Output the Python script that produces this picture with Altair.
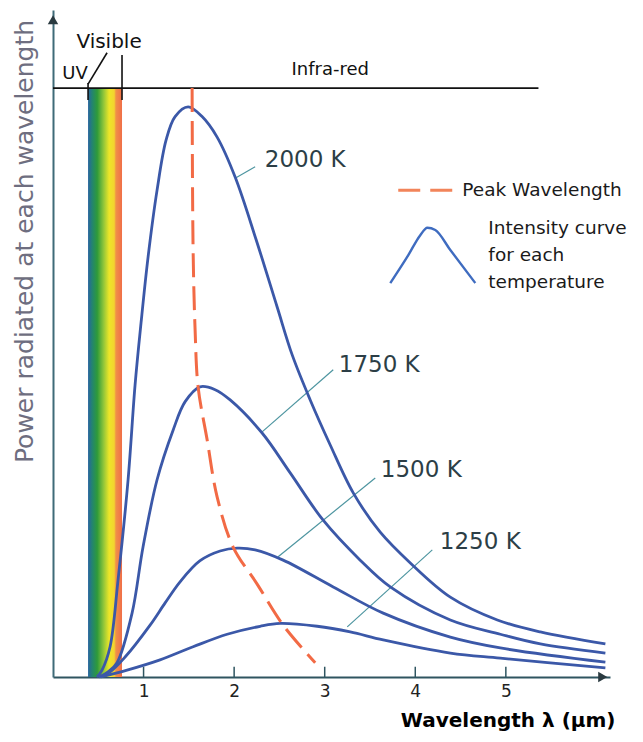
import altair as alt
import pandas as pd

# ---------------- values ----------------
# wavelength in micrometres, power relative to the 2000 K peak (=100)
temps = ["2000 K", "1750 K", "1500 K", "1250 K"]

wl_2000 = [0.486, 0.541, 0.630, 0.718, 0.829, 0.906, 0.972, 1.050, 1.149, 1.249, 1.348, 1.492,
           1.646, 1.812, 2.011, 2.243, 2.475, 2.641, 2.840, 3.061, 3.315, 3.613, 3.945, 4.387,
           4.906, 5.381, 6.099]
pw_2000 = [0.0, 1.2, 5.3, 17.0, 34.6, 51.2, 62.1, 73.7, 85.4, 94.2, 98.3, 100.0,
           98.3, 94.7, 87.7, 76.7, 64.9, 56.5, 48.6, 40.7, 32.3, 25.4, 20.0, 14.0,
           10.0, 7.9, 5.8]

wl_1750 = [0.519, 0.608, 0.707, 0.873, 0.994, 1.149, 1.326, 1.459, 1.624, 1.790, 1.956, 2.309,
           2.619, 2.983, 3.392, 3.724, 4.387, 4.939, 5.381, 6.099]
pw_1750 = [0.0, 0.9, 2.5, 11.2, 22.8, 34.6, 43.3, 48.3, 50.9, 50.4, 48.6, 42.8,
           35.8, 27.5, 20.5, 15.8, 10.0, 7.5, 5.8, 4.2]

wl_1500 = [0.508, 0.630, 0.796, 1.072, 1.238, 1.403, 1.624, 1.845, 2.033, 2.232, 2.541, 3.094,
           3.646, 4.387, 4.939, 6.099]
pw_1500 = [0.0, 0.9, 3.5, 9.1, 13.0, 16.7, 20.4, 22.1, 22.6, 22.3, 20.5, 15.8,
           11.2, 7.0, 5.1, 2.6]

wl_1250 = [0.530, 0.818, 1.182, 1.547, 1.923, 2.287, 2.508, 2.917, 3.282, 3.646, 4.387, 4.939, 6.099]
pw_1250 = [0.0, 1.2, 3.0, 5.3, 7.5, 8.9, 9.4, 8.9, 7.9, 6.5, 4.2, 3.3, 1.6]

# line through the peaks (dashed)
peak_wl = [1.536, 1.547, 1.569, 1.602, 1.702, 1.812, 1.989, 2.254, 2.541, 2.895]
peak_pw = [103.3, 74.9, 60.9, 50.9, 41.6, 31.6, 22.8, 16.3, 9.1, 2.5]

tick_values = [1, 2, 3, 4, 5]
visible_band = [0.387, 0.762]      # UV | visible | infra-red boundaries
infrared_line_level = 103.3
infrared_line_end = 5.36

# legend sample arch
arch_wl = [3.724, 3.923, 4.055, 4.133, 4.221, 4.387, 4.663]
arch_pw = [69.1, 74.0, 77.5, 78.8, 78.4, 74.9, 69.1]

curve_label_wl = [2.785, 3.602, 4.066, 4.718]
curve_label_pw = [90.7, 54.7, 36.3, 23.7]
leader_wl = [2.011, 2.309, 2.486, 3.249]
leader_pw = [87.5, 43.0, 21.1, 8.8]
leader_wl2 = [2.232, 3.094, 3.558, 4.188]
leader_pw2 = [89.5, 53.9, 34.9, 22.3]

# ---------------- tables ----------------
rows = []
for t, wl, pw in [("2000 K", wl_2000, pw_2000), ("1750 K", wl_1750, pw_1750),
                  ("1500 K", wl_1500, pw_1500), ("1250 K", wl_1250, pw_1250)]:
    for i, (a, b) in enumerate(zip(wl, pw)):
        rows.append({"temp": t, "wl": a, "pw": b, "i": i})
curves = pd.DataFrame(rows)
peak = pd.DataFrame({"wl": peak_wl, "pw": peak_pw, "i": range(len(peak_wl))})
arch = pd.DataFrame({"wl": arch_wl, "pw": arch_pw, "i": range(len(arch_wl))})
labels = pd.DataFrame({"text": temps, "wl": curve_label_wl, "pw": curve_label_pw})
leaders = pd.DataFrame({"wl": leader_wl, "pw": leader_pw, "wl2": leader_wl2, "pw2": leader_pw2})
ticks = pd.DataFrame({"wl": tick_values, "pw": [0] * 5, "pw2": [1.8] * 5})

XS = alt.Scale(domain=[0, 6.15], nice=False, zero=False)
YS = alt.Scale(domain=[0, 117], nice=False, zero=False)
FONT = "DejaVu Sans"

x_axis = alt.Axis(values=tick_values, ticks=False, tickSize=0, grid=False,
                  labelFont=FONT, labelFontSize=17, labelColor="#222222", labelPadding=6,
                  domainColor="#2f5560", domainWidth=2,
                  title="Wavelength λ (µm)", titleFont=FONT, titleFontSize=20,
                  titleFontWeight="bold", titleColor="#000000",
                  titleAnchor="end", titleAlign="right", titleX=562, titleY=43,
                  titleBaseline="middle")
y_axis = alt.Axis(ticks=False, labels=False, grid=False,
                  domainColor="#3f6b78", domainWidth=2,
                  title="Power radiated at each wavelength", titleFont=FONT, titleFontSize=25,
                  titleFontWeight="normal", titleColor="#6e6e80", titleAngle=270,
                  titleX=-29, titleY=231, titleAlign="center", titleBaseline="middle")


def xq(field="wl"):
    return alt.X(f"{field}:Q", scale=XS, axis=x_axis)


def yq(field="pw"):
    return alt.Y(f"{field}:Q", scale=YS, axis=y_axis)


grad = alt.LinearGradient(
    gradient="linear", x1=0, x2=1, y1=0, y2=0,
    stops=[alt.GradientStop(color="#2a64a0", offset=0),
           alt.GradientStop(color="#238470", offset=0.12),
           alt.GradientStop(color="#2e9a3a", offset=0.27),
           alt.GradientStop(color="#8cc43a", offset=0.45),
           alt.GradientStop(color="#ece628", offset=0.62),
           alt.GradientStop(color="#f3d430", offset=0.77),
           alt.GradientStop(color="#f09048", offset=0.82),
           alt.GradientStop(color="#f06e48", offset=1)])

band = alt.Chart(pd.DataFrame({"wl": [visible_band[0]], "wl2": [visible_band[1]],
                               "pw": [0], "pw2": [infrared_line_level]})).mark_rect(fill=grad).encode(
    x=xq("wl"), x2="wl2:Q", y=yq("pw"), y2="pw2:Q")

curve_lines = alt.Chart(curves).mark_line(color="#3b58a8", strokeWidth=2.8,
                                          interpolate="catmull-rom").encode(
    x=xq(), y=yq(), detail="temp:N", order="i:Q")

peak_line = alt.Chart(peak).mark_line(color="#f26a45", strokeWidth=3, strokeDash=[24, 9],
                                      interpolate="catmull-rom").encode(x=xq(), y=yq(), order="i:Q")

tick_rules = alt.Chart(ticks).mark_rule(color="#2f5560", strokeWidth=1.5).encode(
    x=xq(), y=yq(), y2="pw2:Q")

ir_line = alt.Chart(pd.DataFrame({"wl": [0], "wl2": [infrared_line_end],
                                  "pw": [infrared_line_level]})).mark_rule(color="#111111", strokeWidth=1.6).encode(
    x=xq(), x2="wl2:Q", y=yq())

region_marks = pd.DataFrame({
    "wl": [visible_band[0], visible_band[1], visible_band[0]],
    "wl2": [visible_band[0], visible_band[1], 0.597],
    "pw": [101.2, 101.2, 104.0],
    "pw2": [104.2, 109.1, 109.5]})
region_rules = alt.Chart(region_marks).mark_rule(color="#111111", strokeWidth=1.6).encode(
    x=xq(), x2="wl2:Q", y=yq(), y2="pw2:Q")

region_text = alt.Chart(pd.DataFrame({"text": ["UV", "Visible", "Infra-red"],
                                      "wl": [0.243, 0.619, 3.061],
                                      "pw": [105.8, 111.4, 106.5],
                                      "size": [18, 20, 18]})).mark_text(
    font=FONT, color="#111111", align="center", baseline="middle").encode(
    x=xq(), y=yq(), text="text:N", size=alt.Size("size:Q", scale=None, legend=None))

leader_rules = alt.Chart(leaders).mark_rule(color="#4d95a0", strokeWidth=1.2).encode(
    x=xq(), x2="wl2:Q", y=yq(), y2="pw2:Q")

curve_text = alt.Chart(labels).mark_text(font=FONT, fontSize=23, color="#2c3e46",
                                         align="center", baseline="middle").encode(
    x=xq(), y=yq(), text="text:N")

legend_dash = alt.Chart(pd.DataFrame({"wl": [3.812], "wl2": [4.409], "pw": [85.4]})).mark_rule(
    color="#f2845a", strokeWidth=3, strokeDash=[22, 10]).encode(x=xq(), x2="wl2:Q", y=yq())

legend_arch = alt.Chart(arch).mark_line(color="#3f6cc0", strokeWidth=2.4, interpolate="monotone").encode(
    x=xq(), y=yq(), order="i:Q")

legend_text = alt.Chart(pd.DataFrame({
    "text": ["Peak Wavelength", "Intensity curve", "for each", "temperature"],
    "wl": [4.519, 4.807, 4.807, 4.807],
    "pw": [85.4, 78.8, 74.0, 69.3]})).mark_text(
    font=FONT, fontSize=18.5, color="#1a1a1a", align="left", baseline="middle").encode(
    x=xq(), y=yq(), text="text:N")

arrows = alt.Chart(pd.DataFrame({"wl": [6.07, 0.0], "pw": [0.0, 115.3],
                                 "shape": ["triangle-right", "triangle-up"]})).mark_point(
    filled=True, opacity=1, color="#2a3a40", size=110).encode(
    x=xq(), y=yq(), shape=alt.Shape("shape:N", scale=None, legend=None))

chart = alt.layer(
    band, ir_line, region_rules, region_text, tick_rules, leader_rules,
    curve_lines, peak_line, curve_text, legend_dash, legend_arch, legend_text, arrows
).properties(
    width=557, height=667,
    padding={"left": 45, "top": 2, "right": 25, "bottom": 54},
    autosize=alt.AutoSizeParams(type="none"),
    background="#ffffff"
).configure_view(stroke=None)

chart.save("out.html", embed_options={"renderer": "svg", "actions": False})
